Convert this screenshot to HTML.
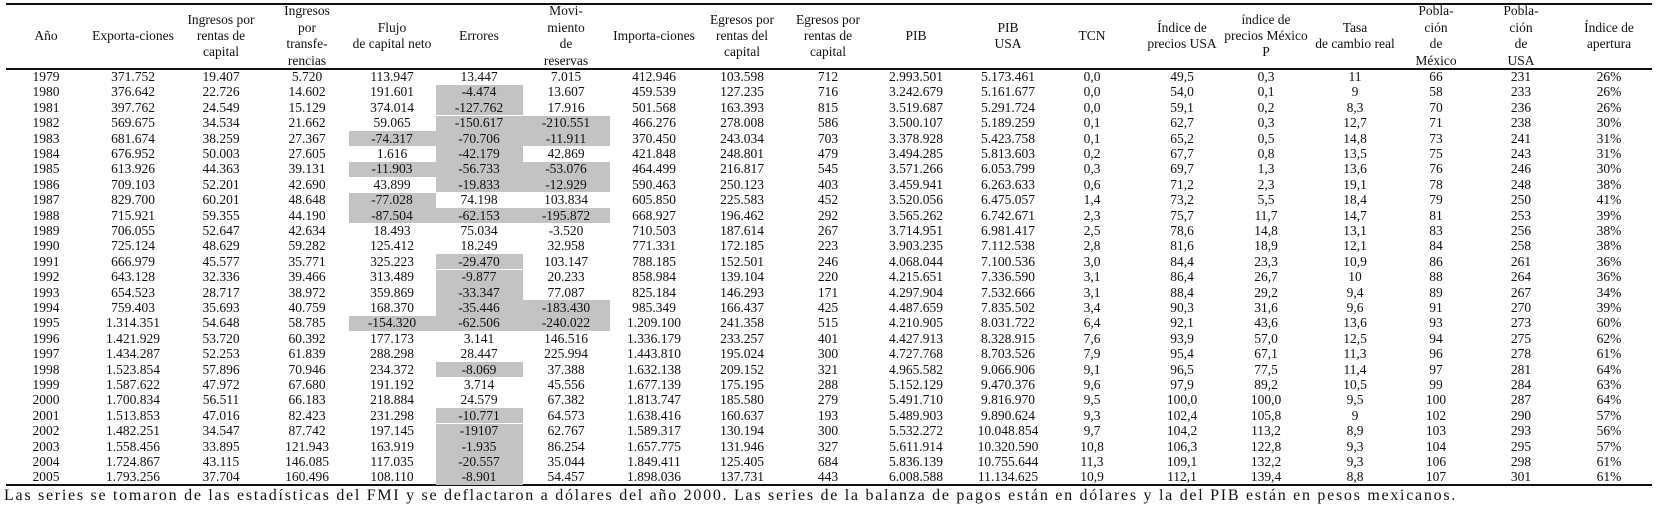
<!DOCTYPE html>
<html><head><meta charset="utf-8">
<style>
html,body{margin:0;padding:0;background:#fff;}
#root{position:relative;width:1657px;height:507px;overflow:hidden;font-family:"Liberation Serif",serif;color:#111;}
.c{position:absolute;white-space:nowrap;transform:translate(-50%,-50%);font-size:13.5px;line-height:14px;}
.h{position:absolute;white-space:nowrap;transform:translate(-50%,-50%);font-size:13.5px;line-height:14px;text-align:center;}
.g{position:absolute;background:#c3c3c3;}
.ln{position:absolute;background:#111;height:1.5px;left:6px;width:1646px;}
#foot{position:absolute;left:4px;top:487px;font-size:16px;line-height:18px;white-space:nowrap;letter-spacing:1px;}
</style></head>
<body>
<div id="root">
<div class="ln" style="top:3px"></div>
<div class="ln" style="top:68px"></div>
<div class="ln" style="top:484px"></div>
<div id="foot">Las series se tomaron de las estadísticas del FMI y se deflactaron a dólares del año 2000. Las series de la balanza de pagos están en dólares y la del PIB están en pesos mexicanos.</div>
</div>
<script>
const headers=[["Año"],["Exporta-ciones"],["Ingresos por","rentas de","capital"],["Ingresos","por","transfe-","rencias"],["Flujo","de capital neto"],["Errores"],["Movi-","miento","de","reservas"],["Importa-ciones"],["Egresos por","rentas del","capital"],["Egresos por","rentas de","capital"],["PIB"],["PIB","USA"],["TCN"],["Índice de","precios USA"],["índice de","precios México","P"],["Tasa","de cambio real"],["Pobla-","ción","de","México"],["Pobla-","ción","de","USA"],["Índice de","apertura"]];
const years=["1979","1980","1981","1982","1983","1984","1985","1986","1987","1988","1989","1990","1991","1992","1993","1994","1995","1996","1997","1998","1999","2000","2001","2002","2003","2004","2005"];
const exportaciones=["371.752","376.642","397.762","569.675","681.674","676.952","613.926","709.103","829.700","715.921","706.055","725.124","666.979","643.128","654.523","759.403","1.314.351","1.421.929","1.434.287","1.523.854","1.587.622","1.700.834","1.513.853","1.482.251","1.558.456","1.724.867","1.793.256"];
const ingRentas=["19.407","22.726","24.549","34.534","38.259","50.003","44.363","52.201","60.201","59.355","52.647","48.629","45.577","32.336","28.717","35.693","54.648","53.720","52.253","57.896","47.972","56.511","47.016","34.547","33.895","43.115","37.704"];
const ingTransf=["5.720","14.602","15.129","21.662","27.367","27.605","39.131","42.690","48.648","44.190","42.634","59.282","35.771","39.466","38.972","40.759","58.785","60.392","61.839","70.946","67.680","66.183","82.423","87.742","121.943","146.085","160.496"];
const flujo=["113.947","191.601","374.014","59.065","-74.317","1.616","-11.903","43.899","-77.028","-87.504","18.493","125.412","325.223","313.489","359.869","168.370","-154.320","177.173","288.298","234.372","191.192","218.884","231.298","197.145","163.919","117.035","108.110"];
const errores=["13.447","-4.474","-127.762","-150.617","-70.706","-42.179","-56.733","-19.833","74.198","-62.153","75.034","18.249","-29.470","-9.877","-33.347","-35.446","-62.506","3.141","28.447","-8.069","3.714","24.579","-10.771","-19107","-1.935","-20.557","-8.901"];
const movimiento=["7.015","13.607","17.916","-210.551","-11.911","42.869","-53.076","-12.929","103.834","-195.872","-3.520","32.958","103.147","20.233","77.087","-183.430","-240.022","146.516","225.994","37.388","45.556","67.382","64.573","62.767","86.254","35.044","54.457"];
const importaciones=["412.946","459.539","501.568","466.276","370.450","421.848","464.499","590.463","605.850","668.927","710.503","771.331","788.185","858.984","825.184","985.349","1.209.100","1.336.179","1.443.810","1.632.138","1.677.139","1.813.747","1.638.416","1.589.317","1.657.775","1.849.411","1.898.036"];
const egrRentas=["103.598","127.235","163.393","278.008","243.034","248.801","216.817","250.123","225.583","196.462","187.614","172.185","152.501","139.104","146.293","166.437","241.358","233.257","195.024","209.152","175.195","185.580","160.637","130.194","131.946","125.405","137.731"];
const egrCapital=["712","716","815","586","703","479","545","403","452","292","267","223","246","220","171","425","515","401","300","321","288","279","193","300","327","684","443"];
const pib=["2.993.501","3.242.679","3.519.687","3.500.107","3.378.928","3.494.285","3.571.266","3.459.941","3.520.056","3.565.262","3.714.951","3.903.235","4.068.044","4.215.651","4.297.904","4.487.659","4.210.905","4.427.913","4.727.768","4.965.582","5.152.129","5.491.710","5.489.903","5.532.272","5.611.914","5.836.139","6.008.588"];
const pibUsa=["5.173.461","5.161.677","5.291.724","5.189.259","5.423.758","5.813.603","6.053.799","6.263.633","6.475.057","6.742.671","6.981.417","7.112.538","7.100.536","7.336.590","7.532.666","7.835.502","8.031.722","8.328.915","8.703.526","9.066.906","9.470.376","9.816.970","9.890.624","10.048.854","10.320.590","10.755.644","11.134.625"];
const tcn=["0,0","0,0","0,0","0,1","0,1","0,2","0,3","0,6","1,4","2,3","2,5","2,8","3,0","3,1","3,1","3,4","6,4","7,6","7,9","9,1","9,6","9,5","9,3","9,7","10,8","11,3","10,9"];
const ipUsa=["49,5","54,0","59,1","62,7","65,2","67,7","69,7","71,2","73,2","75,7","78,6","81,6","84,4","86,4","88,4","90,3","92,1","93,9","95,4","96,5","97,9","100,0","102,4","104,2","106,3","109,1","112,1"];
const ipMex=["0,3","0,1","0,2","0,3","0,5","0,8","1,3","2,3","5,5","11,7","14,8","18,9","23,3","26,7","29,2","31,6","43,6","57,0","67,1","77,5","89,2","100,0","105,8","113,2","122,8","132,2","139,4"];
const tasa=["11","9","8,3","12,7","14,8","13,5","13,6","19,1","18,4","14,7","13,1","12,1","10,9","10","9,4","9,6","13,6","12,5","11,3","11,4","10,5","9,5","9","8,9","9,3","9,3","8,8"];
const pobMex=["66","58","70","71","73","75","76","78","79","81","83","84","86","88","89","91","93","94","96","97","99","100","102","103","104","106","107"];
const pobUsa=["231","233","236","238","241","243","246","248","250","253","256","258","261","264","267","270","273","275","278","281","284","287","290","293","295","298","301"];
const apertura=["26%","26%","26%","30%","31%","31%","30%","38%","41%","39%","38%","38%","36%","36%","34%","39%","60%","62%","61%","64%","63%","64%","57%","56%","57%","61%","61%"];
const shadeFlujo=["1983","1985","1987","1988","1995"];
const shadeErrores=["1980","1981","1982","1983","1984","1985","1986","1988","1991","1992","1993","1994","1995","1998","2001","2002","2003","2004","2005"];
const shadeMov=["1982","1983","1985","1986","1988","1994","1995"];

const root=document.getElementById('root');
const cols=[years,exportaciones,ingRentas,ingTransf,flujo,errores,movimiento,importaciones,egrRentas,egrCapital,pib,pibUsa,tcn,ipUsa,ipMex,tasa,pobMex,pobUsa,apertura];
const colNames=["year","exportaciones","ingresos-rentas","ingresos-transferencias","flujo-capital","errores","movimiento-reservas","importaciones","egresos-rentas-del-capital","egresos-rentas-de-capital","pib","pib-usa","tcn","indice-precios-usa","indice-precios-mexico","tasa-cambio-real","poblacion-mexico","poblacion-usa","indice-apertura"];
const cx=[46,133,221,307,392,479,566,654,742,828,916,1008,1092,1182,1266,1355,1436,1521,1609];
const colW=87;
const rowY=i=>77+i*15.4;

function shade(list,col){
  list.forEach(y=>{
    const i=years.indexOf(y);
    const d=document.createElement('div');
    d.className='g';
    
    
    d.style.left=(cx[col]-colW/2)+'px';
    d.style.width=colW+'px';
    d.style.top=(rowY(i)-7.7)+'px';
    d.style.height='15.4px';
    root.appendChild(d);
  });
}
shade(shadeFlujo,4);shade(shadeErrores,5);shade(shadeMov,6);

headers.forEach((lines,c)=>{
  const n=lines.length;
  const step=n===4?16.8:16;
  lines.forEach((t,k)=>{
    const d=document.createElement('div');
    d.className='h';
    
    
    d.textContent=t;
    d.style.left=cx[c]+'px';
    d.style.top=(36+(k-(n-1)/2)*step)+'px';
    root.appendChild(d);
  });
});

cols.forEach((arr,c)=>{
  arr.forEach((v,i)=>{
    const d=document.createElement('div');
    d.className='c';
    
    
    d.textContent=v;
    d.style.left=cx[c]+'px';
    d.style.top=rowY(i)+'px';
    root.appendChild(d);
  });
});

const f=document.getElementById('foot');
const target=1453;
const w=f.getBoundingClientRect().width;
const n=f.textContent.length;
f.style.letterSpacing=(1+(target-w)/n)+'px';
</script>
</body></html>
